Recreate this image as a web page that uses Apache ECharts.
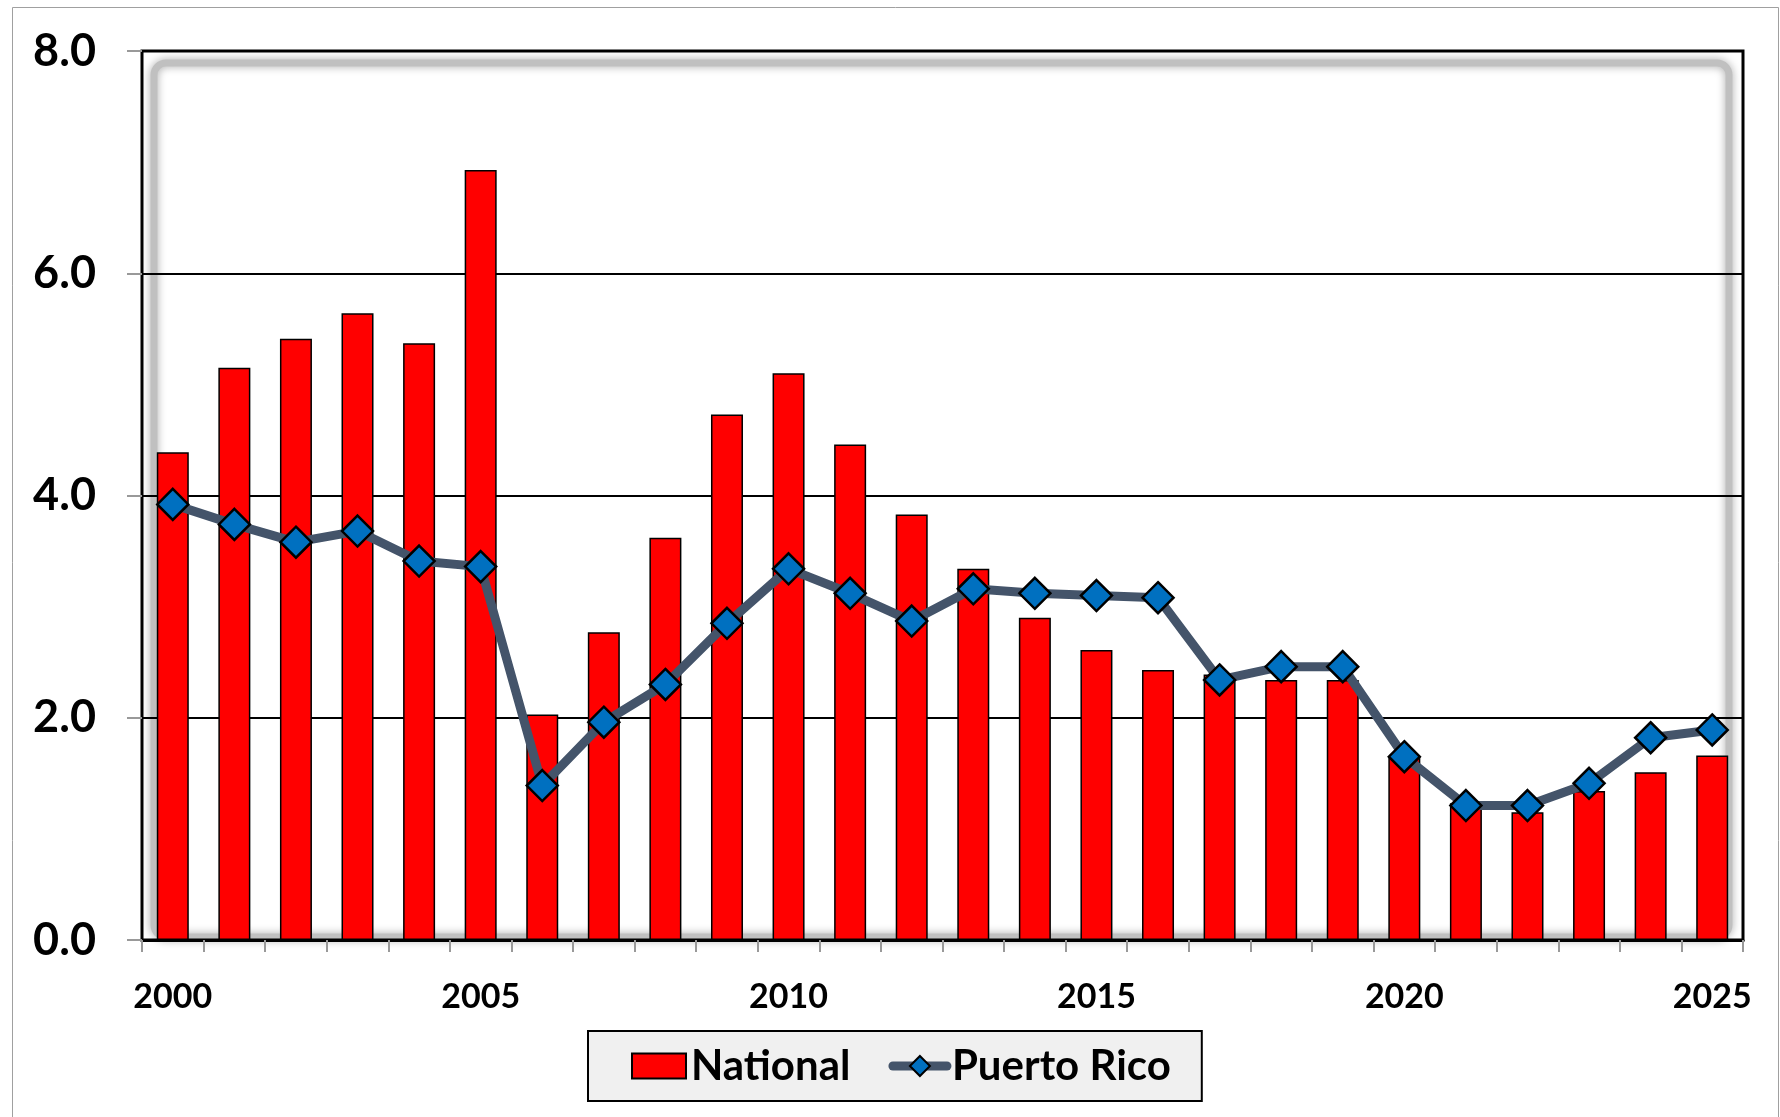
<!DOCTYPE html>
<html>
<head>
<meta charset="utf-8">
<script src="https://cdn.jsdelivr.net/npm/echarts@6/dist/echarts.min.js"></script>
<style>
html, body { margin: 0; padding: 0; background: #fff; }
#chart { width: 1780px; height: 1117px; }
</style>
</head>
<body>
<div id="chart"></div>
<script>
// years on the x axis
var years = ['2000','2001','2002','2003','2004','2005','2006','2007','2008','2009',
             '2010','2011','2012','2013','2014','2015','2016','2017','2018','2019',
             '2020','2021','2022','2023','2024','2025'];
// bars
var national = [4.39, 5.15, 5.41, 5.64, 5.37, 6.93, 2.03, 2.77, 3.62, 4.73,
                5.10, 4.46, 3.83, 3.34, 2.90, 2.61, 2.43, 2.39, 2.34, 2.34,
                1.65, 1.23, 1.15, 1.34, 1.51, 1.66];
// line
var puertoRico = [3.92, 3.74, 3.58, 3.68, 3.41, 3.36, 1.39, 1.96, 2.30, 2.85,
                  3.34, 3.12, 2.87, 3.16, 3.12, 3.10, 3.08, 2.34, 2.46, 2.46,
                  1.65, 1.21, 1.21, 1.41, 1.82, 1.89];

var font = 'Lato, "Open Sans", sans-serif';
var chart = echarts.init(document.getElementById('chart'));

chart.setOption({
    animation: false,
    backgroundColor: '#fff',
    grid: {
        left: 142, right: 37, top: 51, bottom: 177,
        show: true,
        borderColor: '#000',
        borderWidth: 3
    },
    legend: {
        left: 588, top: 1031,
        padding: [14, 31, 14, 43],
        itemGap: 38,
        itemWidth: 54,
        itemHeight: 25,
        backgroundColor: '#f0f0f0',
        borderColor: '#000',
        borderWidth: 2,
        textStyle: { fontFamily: font, fontWeight: 'bold', fontSize: 42, color: '#000' },
        data: [
            { name: 'National', icon: 'rect' },
            { name: 'Puerto Rico', lineStyle: { width: 9, cap: 'round', color: '#44546a' } }
        ]
    },
    graphic: [
        {   // outer frame
            type: 'rect', z: -10, silent: true,
            shape: { x: 12.5, y: 7.5, width: 1766, height: 1120 },
            style: { fill: 'none', stroke: '#a0a0a0', lineWidth: 1 }
        },
        {   // soft inner shadow of the plot area
            type: 'rect', z: -5, silent: true,
            shape: { x: 154, y: 63, width: 1575, height: 874, r: 12 },
            style: { fill: 'none', stroke: '#c0c0c0', lineWidth: 7, shadowBlur: 8, shadowColor: '#a8a8a8' }
        }
    ],
    xAxis: {
        type: 'category',
        data: years,
        boundaryGap: true,
        axisLine: { lineStyle: { color: '#000', width: 3 } },
        axisTick: { show: true, interval: 0, length: 12, lineStyle: { color: '#999', width: 2 } },
        axisLabel: {
            interval: 4, margin: 40,
            fontFamily: font, fontWeight: 'bold', fontSize: 34, color: '#000'
        },
        splitLine: { show: false }
    },
    yAxis: {
        type: 'value',
        min: 0, max: 8, interval: 2,
        axisLine: { show: false },
        axisTick: { show: true, length: 15, lineStyle: { color: '#999', width: 2 } },
        axisLabel: {
            margin: 46,
            fontFamily: font, fontWeight: 'bold', fontSize: 45, color: '#000',
            formatter: function (v) { return v.toFixed(1); }
        },
        splitLine: { show: true, lineStyle: { color: '#000', width: 2 } }
    },
    series: [
        {
            name: 'National',
            type: 'bar',
            data: national,
            barWidth: 32,
            itemStyle: { color: '#ff0000', borderColor: '#000', borderWidth: 1.5 }
        },
        {
            name: 'Puerto Rico',
            type: 'line',
            data: puertoRico,
            symbol: 'diamond',
            symbolSize: 31,
            lineStyle: { color: '#44546a', width: 9, cap: 'round', join: 'round' },
            itemStyle: { color: '#0070c0', borderColor: '#000', borderWidth: 2.5 },
            z: 5
        }
    ]
});
</script>
</body>
</html>
